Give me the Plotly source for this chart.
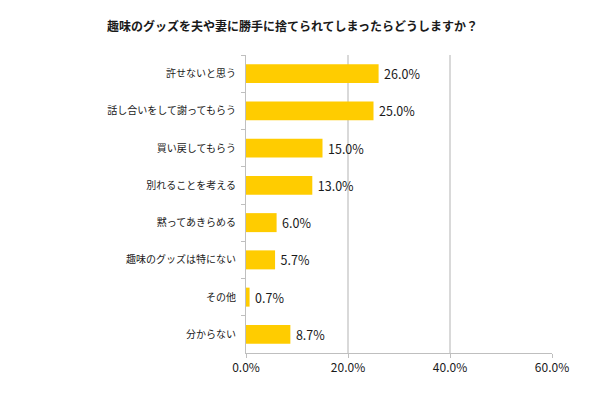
import plotly.graph_objects as go

title_text = "趣味のグッズを夫や妻に勝手に捨てられてしまったらどうしますか？"
categories = ["許せないと思う", "話し合いをして謝ってもらう", "買い戻してもらう", "別れることを考える",
              "黙ってあきらめる", "趣味のグッズは特にない", "その他", "分からない"]
values = [26.0, 25.0, 15.0, 13.0, 6.0, 5.7, 0.7, 8.7]
x_ticks = [0, 20, 40, 60]
x_tick_labels = ["0.0%", "20.0%", "40.0%", "60.0%"]

FONT = "Noto Sans CJK JP"
OFF = 8  # default page body margin

fig = go.Figure(go.Bar(
    x=values,
    y=categories,
    orientation="h",
    marker=dict(color="#FFCC00", line=dict(width=0)),
    text=[f"\u2009{v:.1f}%" for v in values],
    textposition="outside",
    textfont=dict(family=FONT, size=12.5, color="#1a1a1a"),
    cliponaxis=False,
    width=0.51,
))

fig.update_layout(
    width=590, height=393,
    margin=dict(l=246 - OFF, r=590 - 552 + OFF, t=55 - OFF, b=40 + OFF),
    paper_bgcolor="white", plot_bgcolor="white",
    showlegend=False,
    title=dict(text=title_text, x=(292.5 - OFF) / 590, xanchor="center", xref="container",
               y=1 - (26.5 - OFF) / 393, yanchor="middle", yref="container",
               font=dict(family=FONT, size=12, color="#1a1a1a", weight="bold")),
    font=dict(family=FONT, color="#1a1a1a"),
)

fig.update_xaxes(
    range=[0, 60], tickvals=x_ticks, ticktext=x_tick_labels,
    showgrid=True, gridcolor="#d9d9d9", gridwidth=1.5,
    zeroline=False, showline=True, linecolor="#bfbfbf", linewidth=1,
    ticks="outside", ticklen=4, tickcolor="#bfbfbf",
    tickfont=dict(family=FONT, size=12, color="#1a1a1a"),
)
fig.update_yaxes(
    autorange="reversed", showgrid=False, zeroline=False,
    showline=True, linecolor="#bfbfbf", linewidth=1,
    ticks="outside", ticklen=4, tickcolor="#bfbfbf", tickson="boundaries",
    ticklabelstandoff=7,
    tickfont=dict(family=FONT, size=10, color="#1a1a1a"),
)

fig.write_html("out.html")
